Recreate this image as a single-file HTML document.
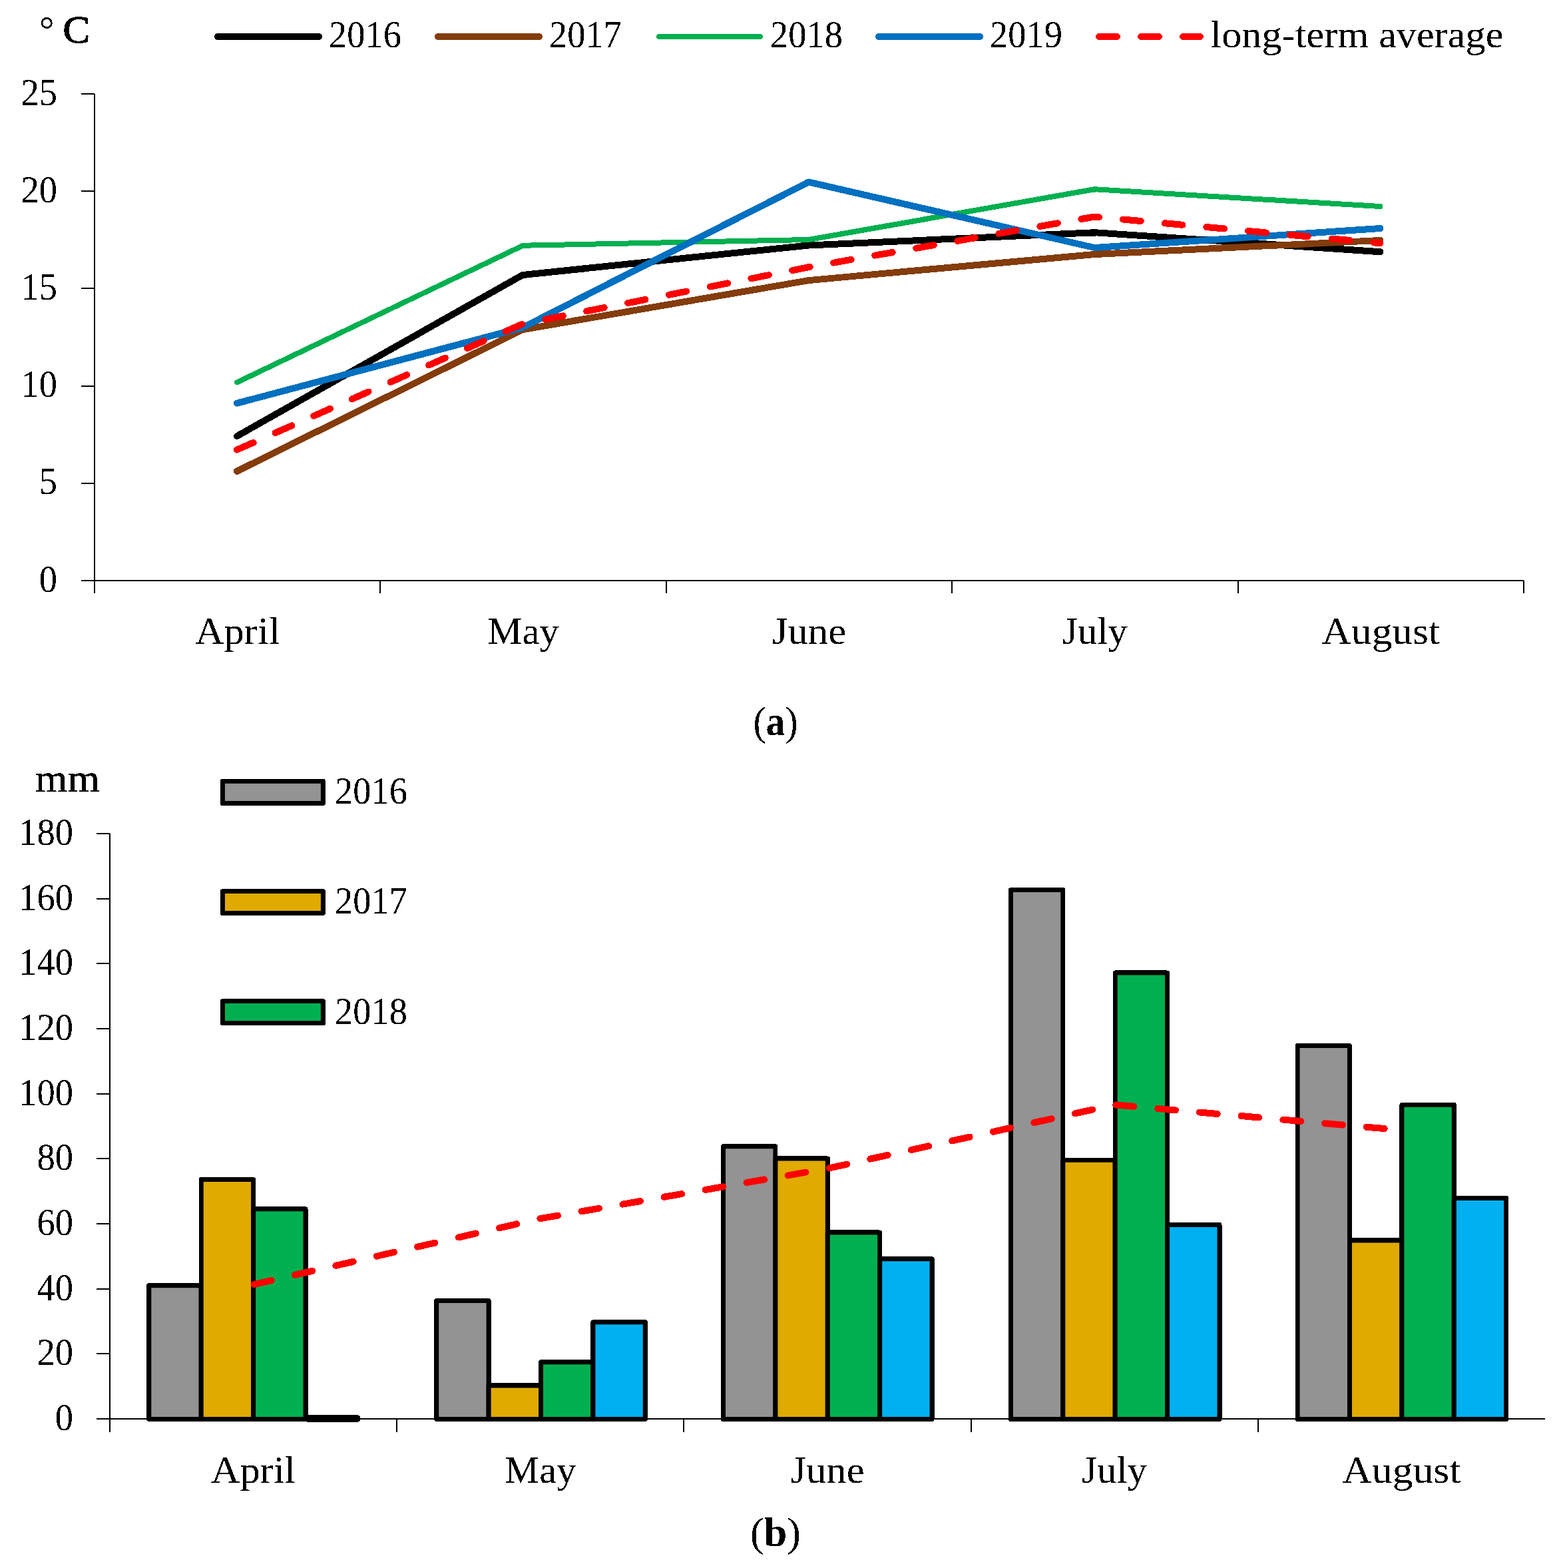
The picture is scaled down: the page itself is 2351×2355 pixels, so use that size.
<!DOCTYPE html><html><head><meta charset="utf-8"><title>Temperature and precipitation</title>
<style>html,body{margin:0;padding:0;background:#fff;}svg{display:block;}</style></head><body>
<svg width="2351" height="2355" viewBox="0 0 2351 2355" font-family='"Liberation Serif", "DejaVu Serif", serif' font-size="56" fill="#000">
<rect x="0" y="0" width="2351" height="2355" fill="#fff"/>
<defs><filter id="bin" x="0" y="0" width="2351" height="2355" filterUnits="userSpaceOnUse" color-interpolation-filters="sRGB"><feComponentTransfer><feFuncA type="discrete" tableValues="0 1"/></feComponentTransfer></filter></defs>
<g filter="url(#bin)">
<g stroke="#000" stroke-width="2" fill="none" stroke-linecap="butt">
<line x1="142" y1="141" x2="142" y2="891"/>
<line x1="122" y1="872" x2="2289" y2="872"/>
<line x1="122" y1="872" x2="142" y2="872"/>
<line x1="122" y1="725.8" x2="142" y2="725.8"/>
<line x1="122" y1="579.6" x2="142" y2="579.6"/>
<line x1="122" y1="433.4" x2="142" y2="433.4"/>
<line x1="122" y1="287.2" x2="142" y2="287.2"/>
<line x1="122" y1="141" x2="142" y2="141"/>
<line x1="571.4" y1="872" x2="571.4" y2="891"/>
<line x1="1000.8" y1="872" x2="1000.8" y2="891"/>
<line x1="1430.2" y1="872" x2="1430.2" y2="891"/>
<line x1="1859.6" y1="872" x2="1859.6" y2="891"/>
<line x1="2289" y1="872" x2="2289" y2="891"/>
</g>
<text transform="translate(86,888.5) scale(0.955,1)" font-size="57" text-anchor="end">0</text>
<text transform="translate(86,742.3) scale(0.955,1)" font-size="57" text-anchor="end">5</text>
<text transform="translate(86,596.1) scale(0.955,1)" font-size="57" text-anchor="end">10</text>
<text transform="translate(86,449.9) scale(0.955,1)" font-size="57" text-anchor="end">15</text>
<text transform="translate(86,303.7) scale(0.955,1)" font-size="57" text-anchor="end">20</text>
<text transform="translate(86,157.5) scale(0.955,1)" font-size="57" text-anchor="end">25</text>
<text transform="translate(356.7,967) scale(1.079,1)" text-anchor="middle">April</text>
<text transform="translate(786.1,967) scale(1.047,1)" text-anchor="middle">May</text>
<text transform="translate(1215.5,967) scale(1.083,1)" text-anchor="middle">June</text>
<text transform="translate(1644.9,967) scale(1.048,1)" text-anchor="middle">July</text>
<text transform="translate(2074.3,967) scale(1.098,1)" text-anchor="middle">August</text>
<polyline points="355.9,655.04 785.3,412.93 1214.7,368.49 1644.1,349.19 2073.5,378.14" fill="none" stroke="#000000" stroke-width="10" stroke-linecap="round" stroke-linejoin="round"/>
<polyline points="355.9,707.67 785.3,495.1 1214.7,421.12 1644.1,381.94 2073.5,360.88" fill="none" stroke="#843C0C" stroke-width="10" stroke-linecap="round" stroke-linejoin="round"/>
<polyline points="355.9,574.34 785.3,368.78 1214.7,360.01 1644.1,284.28 2073.5,310.01" fill="none" stroke="#00B050" stroke-width="8" stroke-linecap="round" stroke-linejoin="round"/>
<polyline points="355.9,605.62 785.3,491.88 1214.7,273.46 1644.1,372 2073.5,343.05" fill="none" stroke="#0070C0" stroke-width="10" stroke-linecap="round" stroke-linejoin="round"/>
<polyline points="355.9,675.51 785.3,486.32 1214.7,401.24 1644.1,325.5 2073.5,365.27" fill="none" stroke="#FF0000" stroke-width="10" stroke-linecap="round" stroke-linejoin="round" stroke-dasharray="27 36"/>
<line x1="327" y1="55" x2="479" y2="55" stroke="#000000" stroke-width="10" stroke-linecap="round"/>
<text transform="translate(494,71) scale(0.955,1)" font-size="57">2016</text>
<line x1="658" y1="55" x2="810" y2="55" stroke="#843C0C" stroke-width="10" stroke-linecap="round"/>
<text transform="translate(825,71) scale(0.955,1)" font-size="57">2017</text>
<line x1="990" y1="55" x2="1142" y2="55" stroke="#00B050" stroke-width="8" stroke-linecap="round"/>
<text transform="translate(1157,71) scale(0.955,1)" font-size="57">2018</text>
<line x1="1320" y1="55" x2="1472" y2="55" stroke="#0070C0" stroke-width="10" stroke-linecap="round"/>
<text transform="translate(1487,71) scale(0.955,1)" font-size="57">2019</text>
<line x1="1651" y1="55" x2="1803" y2="55" stroke="#FF0000" stroke-width="10" stroke-linecap="round" stroke-dasharray="27 36"/>
<text transform="translate(1818.5,71) scale(1.076,1)">long-term average</text>
<text x="59" y="64">°</text><text transform="translate(94.5,64) scale(1.09,1)" stroke="#000" stroke-width="1.3">C</text>
<text transform="translate(1165,1104) scale(0.93,1)" text-anchor="middle" font-size="62">(<tspan font-weight="bold">a</tspan>)</text>
<g stroke="#000" stroke-width="2" fill="none">
<line x1="165" y1="1252" x2="165" y2="2151"/>
<line x1="145" y1="2131" x2="2321" y2="2131"/>
<line x1="145" y1="2131" x2="165" y2="2131"/>
<line x1="145" y1="2033.33" x2="165" y2="2033.33"/>
<line x1="145" y1="1935.67" x2="165" y2="1935.67"/>
<line x1="145" y1="1838" x2="165" y2="1838"/>
<line x1="145" y1="1740.33" x2="165" y2="1740.33"/>
<line x1="145" y1="1642.67" x2="165" y2="1642.67"/>
<line x1="145" y1="1545" x2="165" y2="1545"/>
<line x1="145" y1="1447.33" x2="165" y2="1447.33"/>
<line x1="145" y1="1349.67" x2="165" y2="1349.67"/>
<line x1="145" y1="1252" x2="165" y2="1252"/>
<line x1="596.2" y1="2131" x2="596.2" y2="2151"/>
<line x1="1027.4" y1="2131" x2="1027.4" y2="2151"/>
<line x1="1458.6" y1="2131" x2="1458.6" y2="2151"/>
<line x1="1889.8" y1="2131" x2="1889.8" y2="2151"/>
</g>
<text transform="translate(110,2148) scale(0.955,1)" font-size="57" text-anchor="end">0</text>
<text transform="translate(110,2050.33) scale(0.955,1)" font-size="57" text-anchor="end">20</text>
<text transform="translate(110,1952.67) scale(0.955,1)" font-size="57" text-anchor="end">40</text>
<text transform="translate(110,1855) scale(0.955,1)" font-size="57" text-anchor="end">60</text>
<text transform="translate(110,1757.33) scale(0.955,1)" font-size="57" text-anchor="end">80</text>
<text transform="translate(110,1659.67) scale(0.955,1)" font-size="57" text-anchor="end">100</text>
<text transform="translate(110,1562) scale(0.955,1)" font-size="57" text-anchor="end">120</text>
<text transform="translate(110,1464.33) scale(0.955,1)" font-size="57" text-anchor="end">140</text>
<text transform="translate(110,1366.67) scale(0.955,1)" font-size="57" text-anchor="end">160</text>
<text transform="translate(110,1269) scale(0.955,1)" font-size="57" text-anchor="end">180</text>
<text transform="translate(380.6,2227) scale(1.079,1)" text-anchor="middle">April</text>
<text transform="translate(811.8,2227) scale(1.047,1)" text-anchor="middle">May</text>
<text transform="translate(1243,2227) scale(1.083,1)" text-anchor="middle">June</text>
<text transform="translate(1674.2,2227) scale(1.048,1)" text-anchor="middle">July</text>
<text transform="translate(2105.4,2227) scale(1.098,1)" text-anchor="middle">August</text>
<g stroke="#000" stroke-width="7" stroke-linejoin="round">
<rect x="223.8" y="1930.78" width="78.4" height="200.72" fill="#939393"/>
<rect x="655.7" y="1953.49" width="78.4" height="178.01" fill="#939393"/>
<rect x="1086.5" y="1721.78" width="78.4" height="409.72" fill="#939393"/>
<rect x="1518.4" y="1336.48" width="78.4" height="795.02" fill="#939393"/>
<rect x="1949.1" y="1570.39" width="78.4" height="561.11" fill="#939393"/>
<rect x="302.2" y="1771.59" width="78.4" height="359.91" fill="#E0AA00"/>
<rect x="734.1" y="2080.9" width="78.4" height="50.6" fill="#E0AA00"/>
<rect x="1164.9" y="1740.09" width="78.4" height="391.41" fill="#E0AA00"/>
<rect x="1596.8" y="1742.29" width="78.4" height="389.21" fill="#E0AA00"/>
<rect x="2027.5" y="1862.9" width="78.4" height="268.6" fill="#E0AA00"/>
<rect x="380.6" y="1815.78" width="78.4" height="315.72" fill="#00B050"/>
<rect x="812.5" y="2045.79" width="78.4" height="85.71" fill="#00B050"/>
<rect x="1243.3" y="1850.99" width="78.4" height="280.51" fill="#00B050"/>
<rect x="1675.2" y="1461.01" width="78.4" height="670.49" fill="#00B050"/>
<rect x="2105.9" y="1659.27" width="78.4" height="472.23" fill="#00B050"/>
<rect x="458" y="2125.5" width="82.9" height="10" rx="3" fill="#000" stroke="none"/>
<rect x="890.9" y="1985.82" width="78.4" height="145.68" fill="#00B0F0"/>
<rect x="1321.7" y="1890.79" width="78.4" height="240.71" fill="#00B0F0"/>
<rect x="1753.6" y="1839.46" width="78.4" height="292.04" fill="#00B0F0"/>
<rect x="2184.3" y="1799.42" width="78.4" height="332.08" fill="#00B0F0"/>
</g>
<polyline points="380.6,1929.32 811.8,1830.19 1243,1754.98 1674.2,1659.27 2105.4,1697.36" fill="none" stroke="#FF0000" stroke-width="10" stroke-linecap="round" stroke-linejoin="round" stroke-dasharray="27 36" stroke-dashoffset="-1"/>
<rect x="334.4" y="1173.3" width="151" height="33.2" fill="#939393" stroke="#000" stroke-width="7" stroke-linejoin="round"/>
<text transform="translate(503,1207.3) scale(0.955,1)" font-size="57">2016</text>
<rect x="334.4" y="1338.4" width="151" height="33.2" fill="#E0AA00" stroke="#000" stroke-width="7" stroke-linejoin="round"/>
<text transform="translate(503,1372.4) scale(0.955,1)" font-size="57">2017</text>
<rect x="334.4" y="1503.5" width="151" height="33.2" fill="#00B050" stroke="#000" stroke-width="7" stroke-linejoin="round"/>
<text transform="translate(503,1537.5) scale(0.955,1)" font-size="57">2018</text>
<text transform="translate(53,1189) scale(1.04,1)" font-size="60" stroke="#000" stroke-width="0.4">mm</text>
<text x="1165" y="2322" text-anchor="middle" font-size="62">(<tspan font-weight="bold">b</tspan>)</text>
</g>
</svg></body></html>
